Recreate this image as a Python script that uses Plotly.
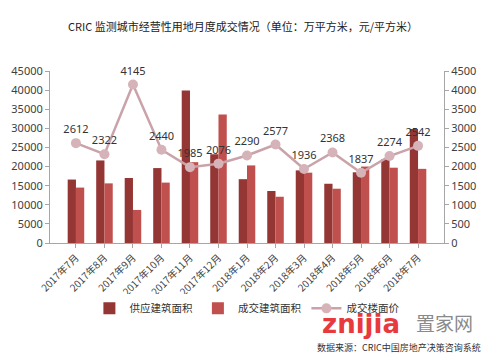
import plotly.graph_objects as go

months = ["2017年7月", "2017年8月", "2017年9月", "2017年10月", "2017年11月", "2017年12月",
          "2018年1月", "2018年2月", "2018年3月", "2018年4月", "2018年5月", "2018年6月", "2018年7月"]
supply_area = [16600, 21600, 17000, 19600, 39900, 23200, 16700, 13600, 19000, 15500, 18500, 21900, 29800]
deal_area = [14500, 15600, 8650, 15800, 21150, 33600, 20300, 12100, 18400, 14200, 20000, 19700, 19400]
floor_price = [2612, 2322, 4145, 2440, 1985, 2076, 2290, 2577, 1936, 2368, 1837, 2274, 2542]

font_family = "Noto Sans CJK SC, DejaVu Sans, sans-serif"
fig = go.Figure()
fig.add_trace(go.Bar(x=months, y=supply_area, name="供应建筑面积",
                     marker=dict(color="#943634", line=dict(width=0))))
fig.add_trace(go.Bar(x=months, y=deal_area, name="成交建筑面积",
                     marker=dict(color="#c0504d", line=dict(width=0))))
fig.add_trace(go.Scatter(x=months, y=floor_price, name="成交楼面价", yaxis="y2",
                         mode="lines+markers+text", text=[str(v) for v in floor_price],
                         textposition="top center", cliponaxis=False,
                         textfont=dict(size=11, color="#333333", family="Noto Sans, DejaVu Sans, sans-serif"),
                         line=dict(color="#c9a3a9", width=2.5),
                         marker=dict(color="#d5b3b8", size=10)))

axis_font = dict(size=11, color="#404040", family="Noto Sans, DejaVu Sans, sans-serif")
fig.update_layout(
    width=500, height=360,
    margin=dict(l=50, r=56, t=71, b=117, autoexpand=False),
    paper_bgcolor="white", plot_bgcolor="white",
    barmode="group", bargap=0.42, bargroupgap=0,
    title=dict(text="CRIC 监测城市经营性用地月度成交情况（单位：万平方米，元/平方米）",
               x=0.49, xanchor="center", xref="paper", yref="container", y=0.925, yanchor="middle",
               font=dict(size=11, color="#222222", family=font_family)),
    xaxis=dict(tickangle=-45, tickfont=dict(size=10, color="#404040", family=font_family),
               showline=True, linecolor="#a6a6a6", ticks="outside", ticklen=4,
               tickcolor="#a6a6a6", showgrid=False, automargin=False),
    yaxis=dict(range=[0, 45000], dtick=5000, tickformat="d", tickfont=axis_font, showline=True,
               linecolor="#a6a6a6", ticks="outside", ticklen=4, tickcolor="#a6a6a6",
               showgrid=False, zeroline=False, automargin=False),
    yaxis2=dict(range=[0, 4500], dtick=500, tickformat="d", overlaying="y", side="right", tickfont=axis_font,
                showline=True, linecolor="#a6a6a6", ticks="outside", ticklen=4,
                tickcolor="#a6a6a6", showgrid=False, zeroline=False, automargin=False),
    legend=dict(orientation="h", x=0.1, xanchor="left", y=-0.38, yanchor="middle",
                font=dict(size=10.5, color="#333333", family=font_family),
                itemwidth=30, tracegroupgap=0),
    showlegend=True,
)
fig.add_annotation(text="<b>znijia</b>", xref="paper", yref="paper", x=0.79, y=-0.47,
                   xanchor="center", yanchor="middle",
                   showarrow=False, font=dict(size=26, color="#e8393c", family="DejaVu Sans, sans-serif"))
fig.add_annotation(text="置家网", xref="paper", yref="paper", x=1.0, y=-0.46,
                   xanchor="center", yanchor="middle",
                   showarrow=False, font=dict(size=19, color="#8a8a8a", family=font_family))
fig.add_annotation(text="数据来源：CRIC中国房地产决策咨询系统", xref="paper", yref="paper",
                   x=1.1, y=-0.61, xanchor="right", yanchor="middle", showarrow=False,
                   font=dict(size=9, color="#333333", family=font_family))
fig.write_html("out.html", config={"displayModeBar": False},
               post_script="document.body.style.margin='0';")
